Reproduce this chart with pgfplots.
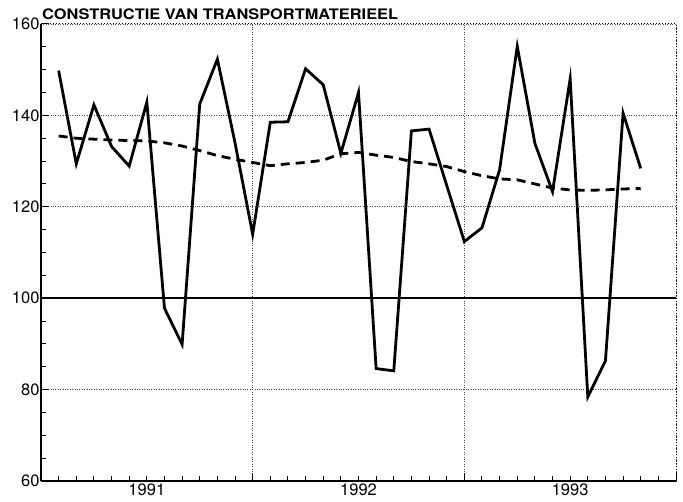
\documentclass[border=0pt]{standalone}
\usepackage{pgfplots}
\pgfplotsset{compat=1.18}
\usepackage{fontspec}
\setmainfont{TeX Gyre Heros}

% monthly index, 1 = Feb 1991 ... 34 = Nov 1993 (0 = left edge)
\begin{document}
\begin{tikzpicture}
\begin{axis}[
  scale only axis,
  width=635pt, height=457pt,
  xmin=0, xmax=36, ymin=60, ymax=160,
  axis x line*=bottom, axis y line*=left,
  axis line style={line width=1.2pt},
  xtick={0,12,24,36}, xticklabels={},
  minor xtick={1,...,35},
  extra x ticks={6,18,30},
  extra x tick labels={1991,1992,1993},
  extra x tick style={major tick length=0pt, grid=none},
  ytick={60,80,...,160},
  minor ytick={65,70,...,155},
  tick align=inside,
  major tick length=8pt, minor tick length=5pt,
  tick style={line width=1pt, black},
  xmajorgrids, ymajorgrids,
  grid style={dotted, line width=0.8pt, black!70},
  /pgf/number format/assume math mode=true,
  ticklabel style={font=\fontsize{16.5}{18}\selectfont},
  yticklabel style={xshift=2pt},
  xticklabel style={yshift=1pt},
  clip=false,
]
\coordinate (ll) at (rel axis cs:0,0);
\coordinate (ur) at (rel axis cs:1,1);
\draw[line width=1.5pt] (axis cs:0,100) -- (axis cs:36,100);
\draw[dotted, line width=1pt] (rel axis cs:0,1) -- (rel axis cs:1,1) -- (rel axis cs:1,0);
\addplot[black, line width=2.8pt, line join=miter] coordinates {
(1,149.8)(2,129.4)(3,142.3)(4,133.2)(5,128.9)(6,142.9)(7,97.8)(8,89.9)
(9,142.5)(10,152.3)(11,134.0)(12,114.0)(13,138.5)(14,138.6)(15,150.2)(16,146.7)
(17,131.7)(18,145.0)(19,84.6)(20,84.1)(21,136.6)(22,137.0)(23,124.7)(24,112.4)
(25,115.4)(26,128.1)(27,155.1)(28,133.9)(29,123.3)(30,148.0)(31,78.4)(32,86.3)
(33,140.5)(34,128.4)
};
\addplot[black, line width=2.8pt, dash pattern=on 9pt off 6pt] coordinates {
(1,135.5)(2,135.0)(3,134.8)(4,134.6)(5,134.5)(6,134.4)(7,134.0)(8,133.3)
(9,132.3)(10,131.2)(11,130.4)(12,129.7)(13,129.0)(14,129.4)(15,129.7)(16,130.2)
(17,131.6)(18,131.9)(19,131.3)(20,130.8)(21,129.9)(22,129.4)(23,128.8)(24,127.7)
(25,126.8)(26,126.1)(27,125.9)(28,125.0)(29,124.1)(30,123.7)(31,123.6)(32,123.7)
(33,123.9)(34,124.0)
};
\node[anchor=south west, inner sep=0pt, xscale=1.13, font=\bfseries\fontsize{14.5}{16}\selectfont]
  at ([xshift=1pt, yshift=4pt]rel axis cs:0,1) {CONSTRUCTIE VAN TRANSPORTMATERIEEL};
\end{axis}
\pgfresetboundingbox
\path ([shift={(-41pt,-21pt)}]ll) rectangle ([shift={(7pt,24pt)}]ur);
\end{tikzpicture}
\end{document}
